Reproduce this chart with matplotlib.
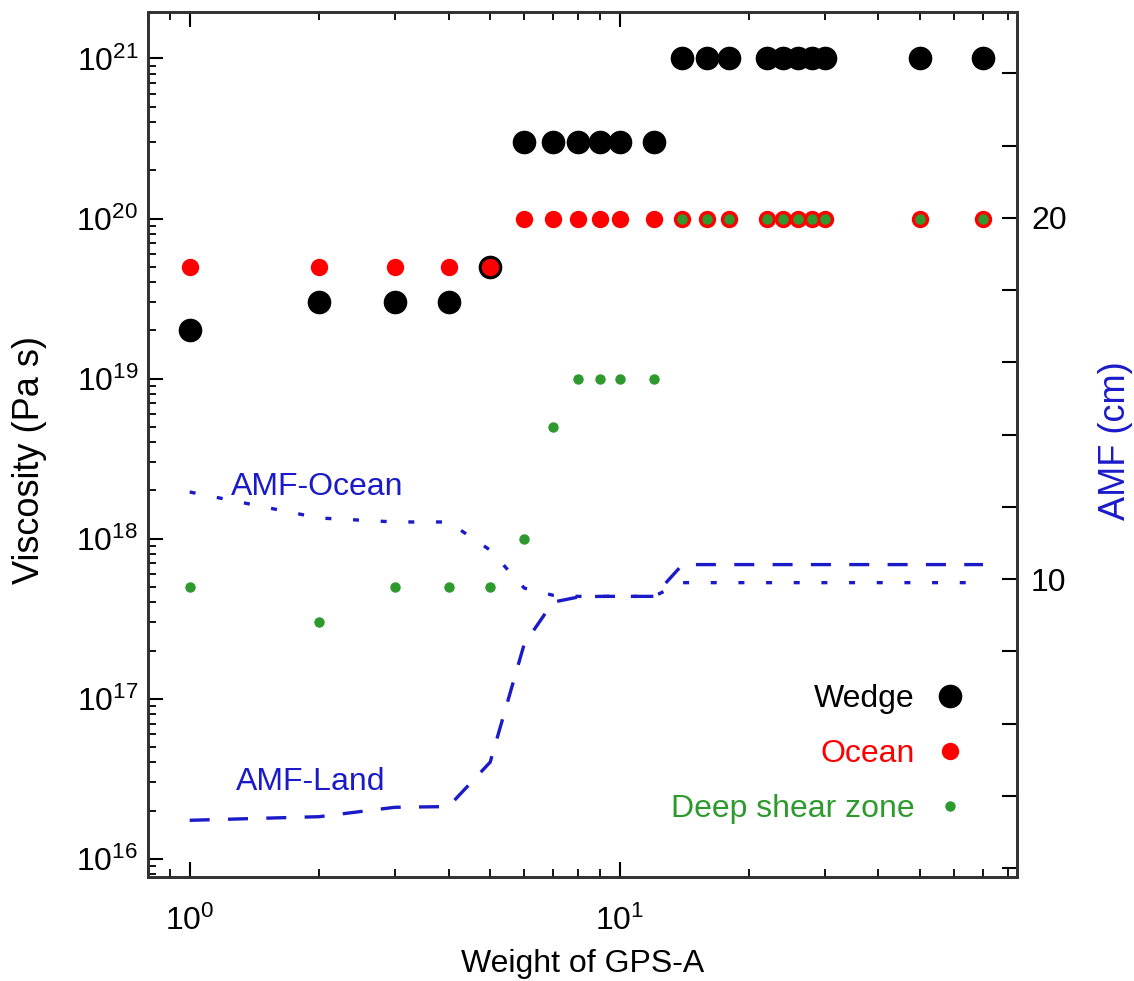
import numpy as np
import matplotlib
matplotlib.use("Agg")
from matplotlib import pyplot as plt
from matplotlib.ticker import LogLocator, MultipleLocator, NullFormatter, FixedLocator

plt.rcParams['font.family'] = ['Liberation Sans', 'DejaVu Sans']
plt.rcParams['mathtext.fontset'] = 'custom'
plt.rcParams['mathtext.rm'] = 'Liberation Sans'
plt.rcParams['mathtext.default'] = 'regular'

# weights of GPS-A
weights = [1, 2, 3, 4, 5, 6, 7, 8, 9, 10, 12, 14, 16, 18, 22, 24, 26, 28, 30, 50, 70]

# viscosities (Pa s)
wedge = [2e19, 3e19, 3e19, 3e19, 5e19,
         3e20, 3e20, 3e20, 3e20, 3e20, 3e20,
         1e21, 1e21, 1e21, 1e21, 1e21, 1e21, 1e21, 1e21, 1e21, 1e21]
ocean = [5e19, 5e19, 5e19, 5e19, 5e19] + [1e20] * 16
deep = [5e17, 3e17, 5e17, 5e17, 5e17, 1e18, 5e18, 1e19, 1e19, 1e19, 1e19] + [1e20] * 10

# AMF (cm)
amf_land = [3.32, 3.42, 3.68, 3.70, 4.93, 8.2, 9.36, 9.5, 9.52, 9.52, 9.52,
            10.4, 10.4, 10.4, 10.4, 10.4, 10.4, 10.4, 10.4, 10.4, 10.4]
amf_ocean = [12.41, 11.69, 11.58, 11.58, 10.8, 9.75, 9.55, 9.52, 9.52, 9.52, 9.52,
             9.9, 9.9, 9.9, 9.9, 9.9, 9.9, 9.9, 9.9, 9.9, 9.9]

fs = 23
blue = '#1a1ac8'
green = '#2e9a2e'

fig = plt.figure(figsize=(11.34, 9.81), dpi=100)
ax = fig.add_axes([148/1134, 1 - 877/981, (1017-148)/1134, (877-12)/981])
ax2 = ax.twinx()

ax.plot(weights, wedge, 'o', color='black', ms=16, mec='black', label='Wedge', zorder=3)
ax.plot(weights, ocean, 'o', color='red', ms=11.5, mec='red', label='Ocean', zorder=4)
ax.plot(weights, deep, 'o', color=green, ms=6.5, mec=green, label='Deep shear zone', zorder=5)

ax2.plot(weights, amf_land, color=blue, lw=2.4, dashes=(6, 5.5))
ax2.plot(weights, amf_ocean, color=blue, lw=2.4, dashes=(1.8, 6.5))
ax2.text(1.25, 12.55, 'AMF-Ocean', color=blue, fontsize=fs, ha='left', va='center')
ax2.text(1.28, 4.38, 'AMF-Land', color=blue, fontsize=fs, ha='left', va='center')

ax.set_xscale('log')
ax.set_yscale('log')
ax.set_xlim(0.8, 84)
ax.set_ylim(7.7e15, 1.95e21)
ax2.set_ylim(1.75, 25.7)

ax.xaxis.set_major_locator(LogLocator(base=10, numticks=10))
ax.xaxis.set_minor_locator(LogLocator(base=10, subs=np.arange(2, 10), numticks=10))
ax.xaxis.set_minor_formatter(NullFormatter())
ax.yaxis.set_major_locator(LogLocator(base=10, numticks=20))
ax.yaxis.set_minor_locator(LogLocator(base=10, subs=np.arange(2, 10), numticks=20))
ax.yaxis.set_minor_formatter(NullFormatter())

ax.tick_params(which='major', direction='in', length=11, width=1.5, labelsize=fs,
               top=True, right=False, pad=7)
ax.tick_params(axis='x', which='major', pad=21)
ax.tick_params(which='minor', direction='in', length=6, width=1.3, top=True, right=False)

ax2.yaxis.set_major_locator(FixedLocator([10, 20]))
ax2.yaxis.set_minor_locator(MultipleLocator(2))
ax2.tick_params(which='major', direction='in', length=11, width=1.5, labelsize=fs, pad=10)
ax2.tick_params(which='minor', direction='in', length=11, width=1.5)

for a in (ax, ax2):
    for s in a.spines.values():
        s.set_linewidth(2)
        s.set_color('#333333')

ax.set_xlabel('Weight of GPS-A', fontsize=fs, labelpad=8)
ax.set_ylabel('Viscosity (Pa s)', fontsize=26)
ax.yaxis.set_label_coords(-0.116, 0.482)
ax2.set_ylabel('AMF (cm)', fontsize=26, color=blue)
ax2.yaxis.set_label_coords(1.093, 0.505)

ax.set_zorder(ax2.get_zorder() + 1)
ax.patch.set_visible(False)

leg = ax.legend(loc='lower right', bbox_to_anchor=(0.941, 0.061), frameon=False,
                markerfirst=False, fontsize=fs, handlelength=1.0, handletextpad=0.6,
                labelspacing=0.78, borderpad=0, borderaxespad=0,
                labelcolor=['black', 'red', green])

fig.savefig('out.png', dpi=100)
